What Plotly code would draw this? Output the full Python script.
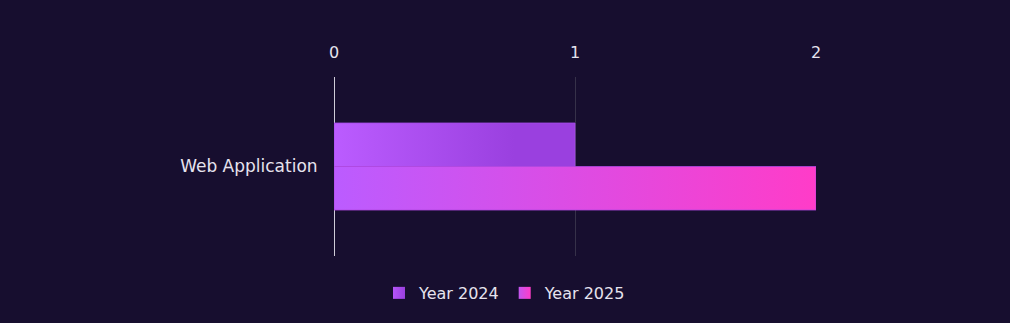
import plotly.graph_objects as go

categories = ["Web Application"]
series_names = ["Year 2024", "Year 2025"]
values_2024 = [1]
values_2025 = [2]
x_ticks = [0, 1, 2]

BG = "#170e2f"
FONT = "'DejaVu Sans', sans-serif"
TEXT = "#e6e3ee"

gradients = [
    [[0, "#bb5cff"], [0.75, "#9a40df"], [1, "#9a40df"]],
    [[0, "#bb5cff"], [1, "#ff3cc8"]],
]
legend_grad = [("#b455f8", "#9a40df"), ("#c455f0", "#ff3cc8")]
line_colors = ["#a64be8", "#b048e0"]

bar_w = 0.243
fig = go.Figure()
for si, (name, vals) in enumerate(zip(series_names, [values_2024, values_2025])):
    xs, ys = [], []
    for ci, v in enumerate(vals):
        y_top = ci + bar_w - si * bar_w
        y_bot = y_top - bar_w
        xs += [0, v, v, 0, 0, None]
        ys += [y_bot, y_bot, y_top, y_top, y_bot, None]
    fig.add_trace(go.Scatter(
        x=xs[:-1], y=ys[:-1], name=name, mode="lines", fill="toself",
        line=dict(width=0.8, color=line_colors[si]),
        fillgradient=dict(type="horizontal", colorscale=gradients[si]),
        hoveron="fills", showlegend=False, legendgroup=name,
    ))
for si, name in enumerate(series_names):
    c0, c1 = legend_grad[si]
    fig.add_trace(go.Scatter(
        x=[None], y=[None], name=name, mode="markers", legendgroup=name,
        marker=dict(symbol="square", size=10, color=c0,
                    gradient=dict(type="horizontal", color=c1), line=dict(width=0)),
    ))

fig.update_layout(
    width=1010, height=323, autosize=False,
    paper_bgcolor=BG, plot_bgcolor=BG,
    margin=dict(l=334, r=194, t=77, b=67, autoexpand=False),
    font=dict(family=FONT, color=TEXT, size=16),
    showlegend=True,
    legend=dict(orientation="h", xref="container", x=0.5, xanchor="center",
                yref="container", y=0.093, yanchor="middle", font=dict(size=16, color=TEXT),
                bgcolor="rgba(0,0,0,0)", traceorder="normal", itemsizing="constant"),
    xaxis=dict(side="top", range=[0, 2], tickvals=x_ticks, ticktext=[str(t) for t in x_ticks],
               showgrid=True, gridcolor="#363149", gridwidth=1,
               zeroline=True, zerolinecolor="#cfccd8", zerolinewidth=1.2,
               showline=False, ticks="outside", ticklen=12, tickcolor=BG,
               tickfont=dict(size=16, color=TEXT), fixedrange=True),
    yaxis=dict(range=[-0.5, 0.5], tickvals=list(range(len(categories))), ticktext=categories,
               showgrid=False, zeroline=False, showline=False, ticks="outside",
               ticklen=12, tickcolor=BG, tickfont=dict(size=17, color=TEXT), fixedrange=True),
)

fig.write_html("out.html")
